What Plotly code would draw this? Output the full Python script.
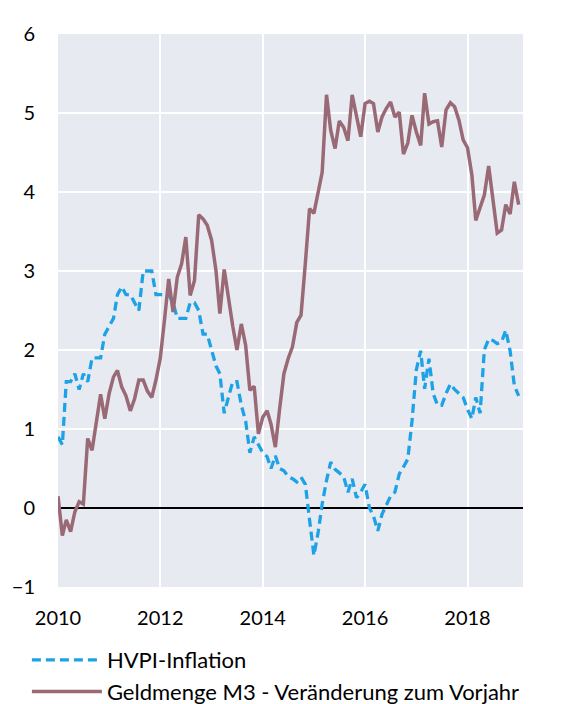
import pandas as pd
import plotly.graph_objects as go

# Monthly observations, Jan 2010 - Jan 2019
months = pd.date_range("2010-01-01", periods=109, freq="MS")

hvpi = [
    0.9, 0.8, 1.6, 1.6, 1.7, 1.5, 1.7, 1.6, 1.9, 1.9, 1.9, 2.2,          # 2010
    2.3, 2.4, 2.7, 2.8, 2.7, 2.7, 2.6, 2.5, 3.0, 3.0, 3.0, 2.7,          # 2011
    2.7, 2.7, 2.7, 2.6, 2.4, 2.4, 2.4, 2.6, 2.6, 2.5, 2.2, 2.2,          # 2012
    2.0, 1.8, 1.7, 1.2, 1.4, 1.6, 1.6, 1.3, 1.1, 0.7, 0.9, 0.8,          # 2013
    0.7, 0.65, 0.5, 0.66, 0.5, 0.47, 0.4, 0.37, 0.33, 0.39, 0.3, -0.15,  # 2014
    -0.6, -0.3, 0.05, 0.35, 0.58, 0.49, 0.45, 0.4, 0.2, 0.37, 0.13, 0.2, # 2015
    0.3, 0.0, -0.1, -0.29, -0.08, 0.05, 0.15, 0.2, 0.43, 0.52, 0.62, 1.1,# 2016
    1.75, 1.99, 1.51, 1.89, 1.45, 1.3, 1.3, 1.45, 1.57, 1.5, 1.45, 1.4,  # 2017
    1.25, 1.13, 1.4, 1.2, 2.0, 2.14, 2.12, 2.08, 2.1, 2.25, 1.99, 1.55,  # 2018
    1.42,                                                                # 2019
]

m3 = [
    0.15, -0.35, -0.15, -0.3, -0.05, 0.08, 0.05, 0.88, 0.73, 1.1, 1.44, 1.13,   # 2010
    1.45, 1.66, 1.74, 1.53, 1.42, 1.23, 1.38, 1.62, 1.62, 1.48, 1.4, 1.62,      # 2011
    1.9, 2.4, 2.9, 2.48, 2.92, 3.09, 3.43, 2.69, 2.88, 3.71, 3.66, 3.58,        # 2012
    3.39, 3.01, 2.46, 3.02, 2.63, 2.3, 2.0, 2.33, 2.06, 1.49, 1.54, 0.94,       # 2013
    1.15, 1.23, 1.06, 0.77, 1.25, 1.7, 1.89, 2.04, 2.35, 2.44, 3.1, 3.79,       # 2014
    3.73, 4.02, 4.25, 5.23, 4.78, 4.55, 4.9, 4.82, 4.65, 5.23, 4.95, 4.7,       # 2015
    5.12, 5.15, 5.12, 4.76, 4.95, 5.06, 5.14, 4.95, 5.01, 4.48, 4.62, 4.97,     # 2016
    4.76, 4.59, 5.25, 4.86, 4.89, 4.9, 4.57, 5.04, 5.13, 5.08, 4.91, 4.66,      # 2017
    4.56, 4.22, 3.64, 3.81, 3.96, 4.33, 3.89, 3.48, 3.52, 3.84, 3.72, 4.13,     # 2018
    3.84,                                                                       # 2019
]

series_names = ["HVPI-Inflation", "Geldmenge M3 - Veränderung zum Vorjahr"]
y_ticks = [-1, 0, 1, 2, 3, 4, 5, 6]

FONT = "Lato, 'Open Sans', sans-serif"

fig = go.Figure()
fig.add_trace(go.Scatter(
    x=months, y=hvpi, mode="lines", name=series_names[0],
    line=dict(color="#1EA2E6", width=3.3, dash="9px,5px"),
))
fig.add_trace(go.Scatter(
    x=months, y=m3, mode="lines", name=series_names[1],
    line=dict(color="#996A76", width=3.5),
))

fig.update_layout(
    width=556, height=696,
    margin=dict(l=50, r=41, t=26, b=117, autoexpand=False),
    paper_bgcolor="white",
    plot_bgcolor="#E8EAF1",
    font=dict(family=FONT, size=20, color="black"),
    showlegend=True,
    legend=dict(
        orientation="v",
        xref="container", yref="container",
        x=0.034, xanchor="left",
        y=0.0934, yanchor="top",
        bgcolor="rgba(0,0,0,0)",
        font=dict(family=FONT, size=22, color="black"),
        itemwidth=70,
        tracegroupgap=0,
    ),
)

fig.update_xaxes(
    range=["2010-01-01", "2019-02-01"],
    tick0="2010-01-01", dtick="M24", tickformat="%Y",
    showgrid=True, gridcolor="white", gridwidth=2,
    showline=False, zeroline=False, ticks="",
    automargin=False,
    ticklabelstandoff=17,
    tickfont=dict(family=FONT, size=20, color="black"),
)
fig.update_yaxes(
    range=[-1, 6], tickvals=y_ticks,
    showgrid=True, gridcolor="white", gridwidth=2,
    zeroline=True, zerolinecolor="black", zerolinewidth=1.6,
    showline=False, ticks="",
    automargin=False,
    ticklabelstandoff=22,
    tickfont=dict(family=FONT, size=20, color="black"),
)

fig.write_html("out.html")
